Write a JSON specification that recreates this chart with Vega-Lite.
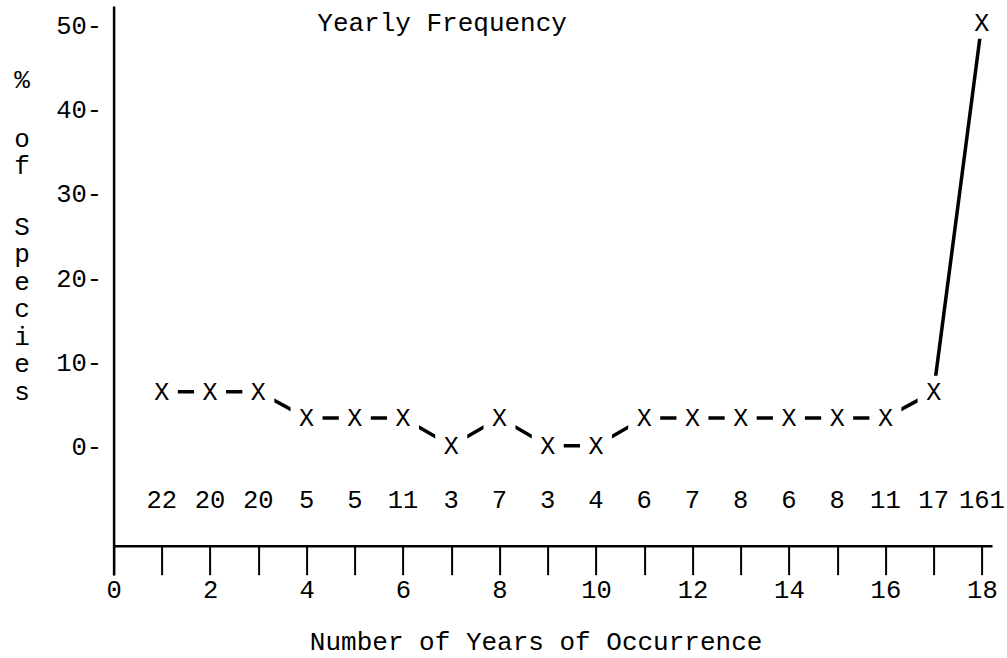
{
  "$schema": "https://vega.github.io/schema/vega-lite/v6.json",
  "autosize": "none",
  "padding": {"left": 113.6, "top": 6, "right": 15, "bottom": 83},
  "width": 878.4,
  "height": 569,
  "background": "white",
  "config": {"view": {"stroke": null}, "font": "Liberation Mono"},
  "data": {"values": [
    {"years": 1, "pct": 6.5, "count": 22},
    {"years": 2, "pct": 6.5, "count": 20},
    {"years": 3, "pct": 6.5, "count": 20},
    {"years": 4, "pct": 3.4, "count": 5},
    {"years": 5, "pct": 3.4, "count": 5},
    {"years": 6, "pct": 3.4, "count": 11},
    {"years": 7, "pct": 0.1, "count": 3},
    {"years": 8, "pct": 3.4, "count": 7},
    {"years": 9, "pct": 0.1, "count": 3},
    {"years": 10, "pct": 0.1, "count": 4},
    {"years": 11, "pct": 3.4, "count": 6},
    {"years": 12, "pct": 3.4, "count": 7},
    {"years": 13, "pct": 3.4, "count": 8},
    {"years": 14, "pct": 3.4, "count": 6},
    {"years": 15, "pct": 3.4, "count": 8},
    {"years": 16, "pct": 3.4, "count": 11},
    {"years": 17, "pct": 6.5, "count": 17},
    {"years": 18, "pct": 50.3, "count": 161}
  ]},
  "layer": [
    {
      "encoding": {
        "x": {
          "field": "years", "type": "quantitative",
          "scale": {"domain": [0, 18.21], "nice": false, "zero": false},
          "axis": {
            "values": [0,1,2,3,4,5,6,7,8,9,10,11,12,13,14,15,16,17,18],
            "labelExpr": "datum.value % 2 == 0 ? datum.label : ''",
            "offset": -29.3,
            "domainColor": "black", "domainWidth": 2.5,
            "tickColor": "black", "tickWidth": 2, "tickSize": 29,
            "labelFontSize": 25.5, "labelColor": "black", "labelPadding": 3,
            "labelFont": "Liberation Mono", "labelFlush": false, "labelOverlap": false, "labelBound": false,
            "grid": false,
            "title": "Number of Years of Occurrence",
            "titleFont": "Liberation Mono", "titleFontSize": 26, "titleFontWeight": "normal", "titleColor": "black",
            "titleX": 422, "titleY": 96, "titleBaseline": "middle", "titleAlign": "center"
          }
        },
        "y": {
          "field": "pct", "type": "quantitative",
          "scale": {"domain": [-15.25, 52.3], "nice": false, "zero": false},
          "axis": {
            "values": [0, 10, 20, 30, 40, 50],
            "labelExpr": "datum.label + '-'",
            "ticks": false, "tickSize": 0, "labelPadding": 12,
            "domainColor": "black", "domainWidth": 2.5,
            "labelFontSize": 25.5, "labelColor": "black", "labelFont": "Liberation Mono",
            "labelFlush": false, "labelOverlap": false, "labelBaseline": "middle",
            "grid": false,
            "title": null
          }
        }
      },
      "layer": [
        {"mark": {"type": "line", "color": "black", "strokeWidth": 3.5}},
        {"mark": {"type": "point", "shape": "square", "filled": true, "color": "white", "opacity": 1, "size": 1024}},
        {"mark": {"type": "text", "text": "X", "fontSize": 25, "font": "Liberation Mono", "color": "black", "baseline": "middle", "align": "center"}},
        {"mark": {"type": "text", "fontSize": 25.5, "font": "Liberation Mono", "color": "black", "baseline": "middle", "align": "center"},
         "encoding": {"y": {"datum": -6.4}, "text": {"field": "count", "type": "quantitative"}}}
      ]
    },
    {
      "data": {"values": [{"label": "Yearly Frequency"}]},
      "mark": {"type": "text", "fontSize": 26, "font": "Liberation Mono", "color": "black", "baseline": "middle", "align": "center"},
      "encoding": {
        "x": {"datum": 6.81, "type": "quantitative"},
        "y": {"datum": 50.3, "type": "quantitative"},
        "text": {"field": "label", "type": "nominal"}
      }
    },
    {
      "data": {"values": [{"label": "%"}]},
      "mark": {"type": "text", "fontSize": 26, "font": "Liberation Mono", "color": "black", "baseline": "middle", "align": "center"},
      "encoding": {
        "x": {"datum": -1.9, "type": "quantitative"},
        "y": {"datum": 43.5, "type": "quantitative"},
        "text": {"field": "label", "type": "nominal"}
      }
    },
    {
      "data": {"values": [{"label": "of"}]},
      "mark": {"type": "text", "text": ["o", "f"], "lineHeight": 27, "fontSize": 26, "font": "Liberation Mono", "color": "black", "baseline": "middle", "align": "center"},
      "encoding": {
        "x": {"datum": -1.9, "type": "quantitative"},
        "y": {"datum": 36.5, "type": "quantitative"}
      }
    },
    {
      "data": {"values": [{"label": "Species"}]},
      "mark": {"type": "text", "text": ["S", "p", "e", "c", "i", "e", "s"], "lineHeight": 27.5, "fontSize": 26, "font": "Liberation Mono", "color": "black", "baseline": "middle", "align": "center"},
      "encoding": {
        "x": {"datum": -1.9, "type": "quantitative"},
        "y": {"datum": 26.1, "type": "quantitative"}
      }
    }
  ]
}
